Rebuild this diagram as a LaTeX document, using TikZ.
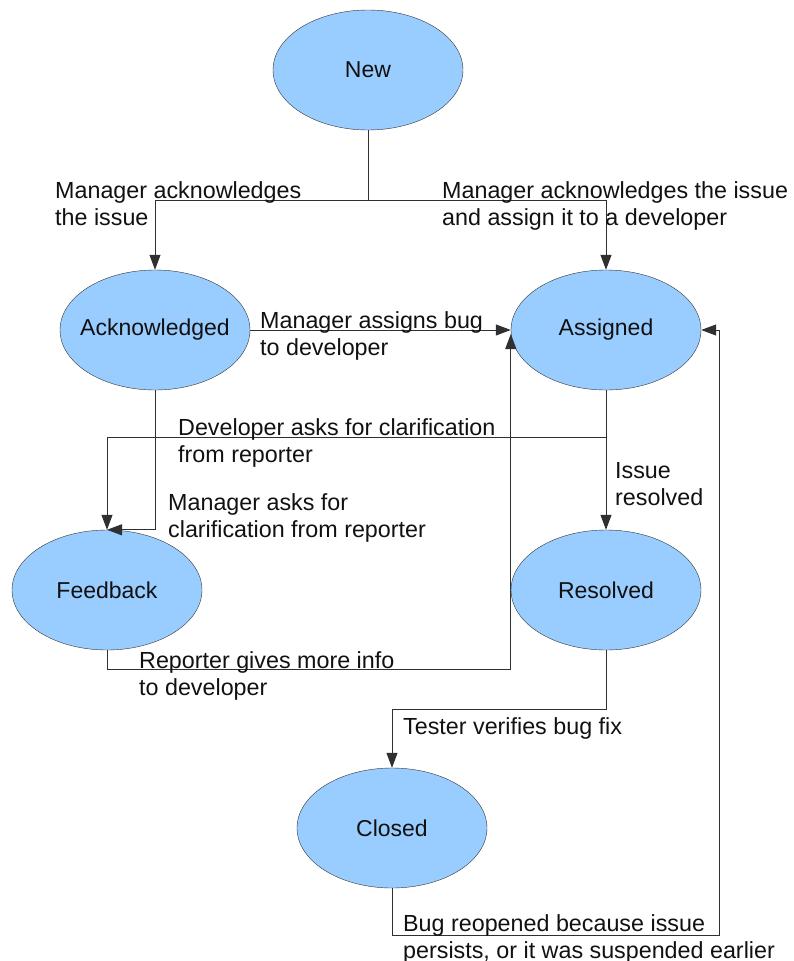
\documentclass[tikz,border=0pt]{standalone}
\usepackage{fontspec}
\setmainfont{Liberation Sans}
\usepackage{xcolor}
\definecolor{state-blue}{HTML}{99CCFF}
\definecolor{state-edge}{HTML}{333333}
\definecolor{link-grey}{HTML}{303030}
\definecolor{ink}{HTML}{111111}
\usetikzlibrary{shapes.geometric,arrows.meta}

\newcommand{\statename}[1]{\makebox[0pt]{#1}}

\tikzset{
  state/.style={ellipse, draw=state-edge, fill=state-blue, text=ink,
    minimum width=190pt, minimum height=120pt, inner sep=0pt,
    font=\fontsize{23}{27}\selectfont},
  link/.style={draw=link-grey, line width=1pt},
  flow/.style={link, -{Triangle[length=15pt,width=11pt]}},
  note/.style={anchor=north west, inner sep=0pt, align=left, text=ink,
    font=\fontsize{23.3}{27}\selectfont}
}

\begin{document}
\begin{tikzpicture}[x=1pt, y=-1pt]

    % Page
    \useasboundingbox (0, 0) rectangle (793, 961);

    % States
    \node[state] (new)      at (368, 70)  {\statename{New}};
    \node[state] (ack)      at (155, 330) {\statename{Acknowledged}};
    \node[state] (assigned) at (606, 330) {\statename{Assigned}};
    \node[state] (feedback) at (107, 590) {\statename{Feedback}};
    \node[state] (resolved) at (606, 590) {\statename{Resolved}};
    \node[state] (closed)   at (392, 828) {\statename{Closed}};

    % Bends
    \coordinate (split)  at (368, 200);
    \coordinate (reopen) at (719, 935);

    % New -> Acknowledged / Assigned
    \draw[link] (new.south) -- (split);
    \draw[flow] (split) -| (ack.north);
    \draw[flow] (split) -| (assigned.north);

    % Acknowledged -> Assigned
    \draw[flow] (ack.east) -- (assigned.west);

    % Back to Feedback
    \draw[flow] (assigned.south) -- ++(0, 47) -| (feedback.north);
    \draw[flow] (ack.south) |- (feedback.north);

    % Assigned -> Resolved
    \draw[flow] (assigned.south) -- (resolved.north);

    % Feedback -> Assigned
    \draw[flow] (feedback.south) -- ++(0, 19) -| ([yshift=-4pt]assigned.west);

    % Resolved -> Closed
    \draw[flow] (resolved.south) -- ++(0, 59) -| (closed.north);

    % Closed -> Assigned
    \draw[flow] (closed.south) |- (reopen) |- (assigned.east);

    % Labels
    \node[note] (l-ack)      at (55, 181)  {Manager acknowledges\\the issue};
    \node[note] (l-assign)   at (442, 181) {Manager acknowledges the issue\\and assign it to a developer};
    \node[note] (l-bug)      at (260, 311) {Manager assigns bug\\to developer};
    \node[note] (l-devask)   at (178, 418) {Developer asks for clarification\\from reporter};
    \node[note] (l-mgrask)   at (168, 493) {Manager asks for\\clarification from reporter};
    \node[note] (l-resolved) at (615, 462) {Issue\\resolved};
    \node[note] (l-info)     at (139, 651) {Reporter gives more info\\to developer};
    \node[note] (l-tester)   at (403, 717) {Tester verifies bug fix};
    \node[note] (l-reopen)   at (403, 914) {Bug reopened because issue\\persists, or it was suspended earlier};

\end{tikzpicture}
\end{document}
